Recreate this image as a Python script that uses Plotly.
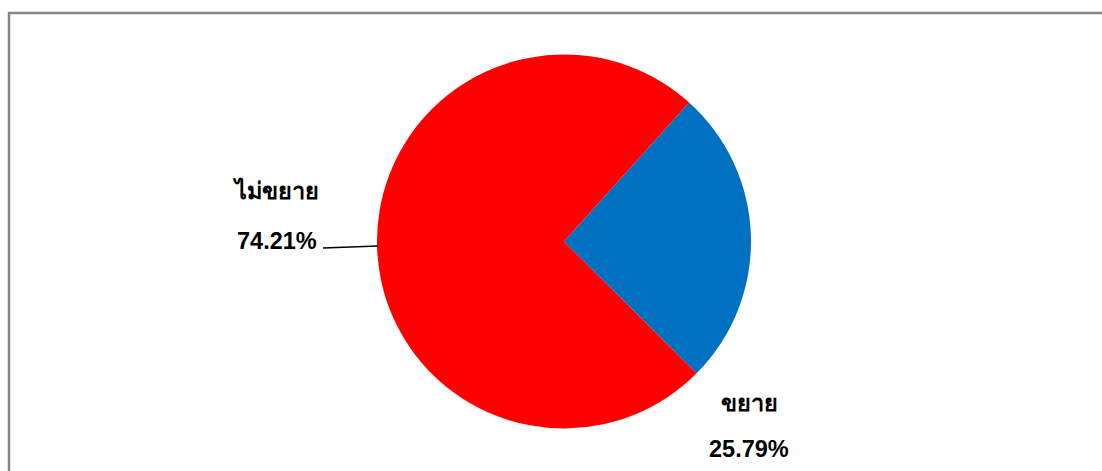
import plotly.graph_objects as go

# Share of respondents by answer
categories = ["ขยาย", "ไม่ขยาย"]
percentages = [25.79, 74.21]
slice_colors = ["#0070C0", "#FF0000"]

W, H = 1102, 471
cx, cy, r = 564, 241.5, 187  # pie centre and radius in px


def px_x(x):
    return x / W


def px_y(y):
    return 1 - y / H


fig = go.Figure(
    go.Pie(
        labels=categories,
        values=percentages,
        marker=dict(colors=slice_colors, line=dict(width=0)),
        sort=False,
        direction="clockwise",
        rotation=42,
        textinfo="none",
        hoverinfo="label+percent",
        domain=dict(x=[px_x(cx - r), px_x(cx + r)], y=[px_y(cy + r), px_y(cy - r)]),
        showlegend=False,
    )
)

label_font = dict(family="Liberation Sans, Arial, sans-serif", size=23.5, color="black")

# label positions (px) for each category: name line and value line
label_pos = {
    "ขยาย": ((749, 403), (749, 449)),
    "ไม่ขยาย": ((275, 190), (277, 241)),
}

annotations = []
for name, val in zip(categories, percentages):
    (nx, ny), (vx, vy) = label_pos[name]
    annotations.append(dict(
        x=px_x(nx), y=px_y(ny), xref="paper", yref="paper",
        text=f"<b>{name}</b>", showarrow=False, font=label_font,
        xanchor="center", yanchor="middle",
    ))
    annotations.append(dict(
        x=px_x(vx), y=px_y(vy), xref="paper", yref="paper",
        text=f"<b>{val:.2f}%</b>", showarrow=False, font=label_font,
        xanchor="center", yanchor="middle",
    ))

shapes = [
    # chart frame
    dict(type="rect", xref="paper", yref="paper",
         x0=px_x(9), x1=px_x(W + 10), y0=px_y(H + 10), y1=px_y(13),
         line=dict(color="#868686", width=2.5), fillcolor="rgba(0,0,0,0)"),
    # leader line for the large slice
    dict(type="line", xref="paper", yref="paper",
         x0=px_x(323), y0=px_y(248), x1=px_x(378), y1=px_y(246),
         line=dict(color="black", width=1.5)),
]

fig.update_layout(
    width=W, height=H,
    margin=dict(l=0, r=0, t=0, b=0),
    paper_bgcolor="white", plot_bgcolor="white",
    annotations=annotations, shapes=shapes,
)

fig.write_html("out.html")
